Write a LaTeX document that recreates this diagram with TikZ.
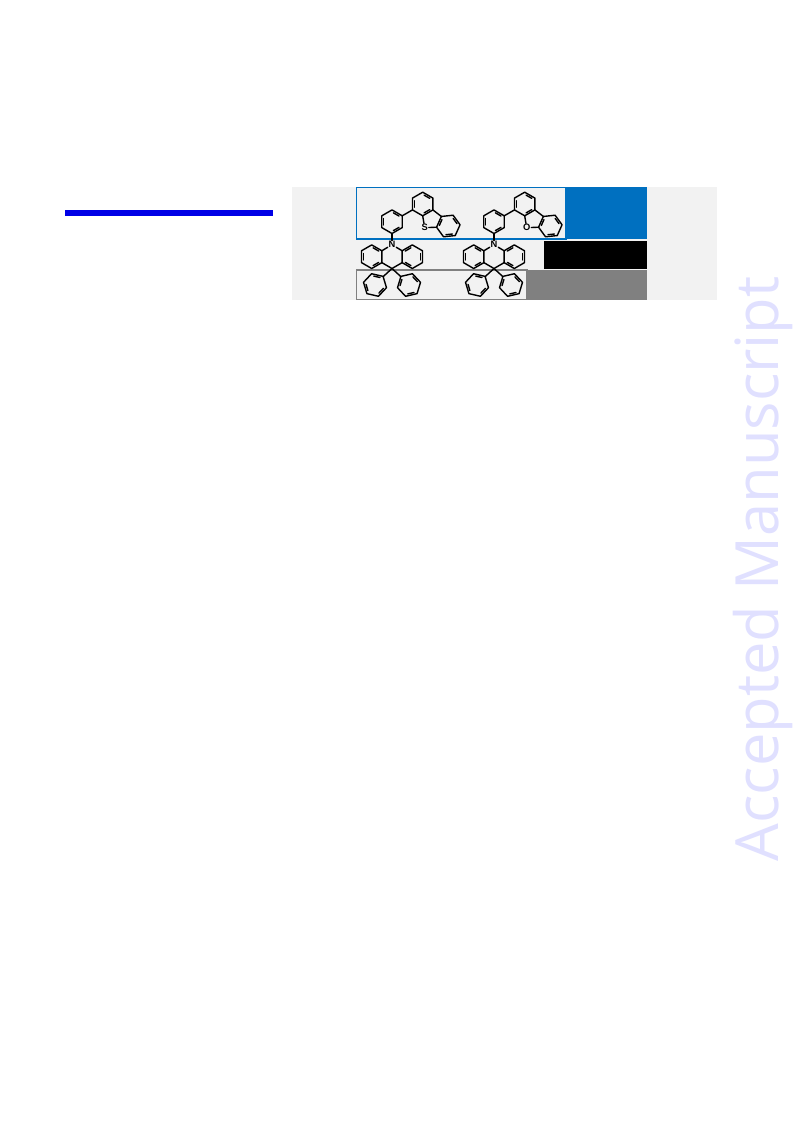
\documentclass[tikz,border=0pt]{standalone}
\usepackage{fontspec}
\setmainfont{Liberation Sans}
\newfontfamily\wmfont{Open Sans}
\definecolor{panelgray}{HTML}{F2F2F2}
\definecolor{boxblue}{HTML}{0070C0}
\definecolor{barblue}{HTML}{0000E6}
\definecolor{boxgray}{HTML}{808080}
\definecolor{wmark}{HTML}{E0E0FF}
\tikzset{
  bond/.style={line width=1.05pt,line join=round,line cap=round,black},
  atom/.style={font=\bfseries\fontsize{7}{8}\selectfont,inner sep=0.5pt,fill=panelgray,text=black},
  pics/hexring/.style 2 args={code={
    \begin{scope}[shift={#1}]
      \draw[bond] (#2:11.8) -- (#2+60:11.8) -- (#2+120:11.8) -- (#2+180:11.8) -- (#2+240:11.8) -- (#2+300:11.8) -- cycle;
      \foreach \a in {0,120,240}{
        \draw[bond] (#2+\a+9:9) -- (#2+\a+51:9);
      }
    \end{scope}
  }},
  pics/molecule/.style={code={
    \pic {hexring={(30.7,-17.7)}{30}};
    \pic {hexring={(0,0)}{30}};
    \pic {hexring={(-20.3,35)}{30}};
    \pic {hexring={(20.3,35)}{-30}};
    \draw[bond] (10.2,-5.9) -- (20.5,-11.8);
    \node[atom] (het) at (32.7,6) {#1};
    \draw[bond] (30.7,-5.9) -- (het);
    \draw[bond] (40.9,-11.8) -- (49.4,-5.2);
    \draw[bond] (het) -- (44.6,5.5);
    \pic {hexring={(56.3,4.3)}{54}};
    \node[atom] (nit) at (0,23) {N};
    \draw[bond] (0,11.8) -- (nit);
    \draw[bond] (nit) -- (-10.2,29.1);
    \draw[bond] (nit) -- (10.2,29.1);
    \draw[bond] (-10.2,40.9) -- (0,46.8) -- (10.2,40.9);
    \draw[bond] (0,46.8) -- (-8.5,54.6);
    \draw[bond] (0,46.8) -- (8.5,54.6);
    \pic {hexring={(-17,63.3)}{13}};
    \pic {hexring={(17,63.3)}{47}};
  }},
  pics/molecule/.default=S
}
\begin{document}
\begin{tikzpicture}[x=0.75pt,y=-0.75pt]
\useasboundingbox (0,0) rectangle (793,1121);
\fill[white] (0,0) rectangle (793,1121);
\fill[barblue] (65,210) rectangle (273,216);
\fill[panelgray] (292,187) rectangle (717,300);
\fill[boxblue] (566,187) rectangle (647,239);
\fill[black] (544,241) rectangle (647,269);
\fill[boxgray] (527,270) rectangle (647,299.5);
\draw[boxblue,line width=1pt] (356.5,187.5) rectangle (566,239);
\draw[boxgray,line width=1.1pt] (356.5,270) rectangle (527,299.5);
\pic at (392,221.7) {molecule=S};
\pic at (494,221.7) {molecule=O};
\node[text=wmark,rotate=90,anchor=base,font=\wmfont\fontsize{44.7}{50}\selectfont,inner sep=0pt] (wm) at (778,569) {Accepted Manuscript};
\end{tikzpicture}
\end{document}
